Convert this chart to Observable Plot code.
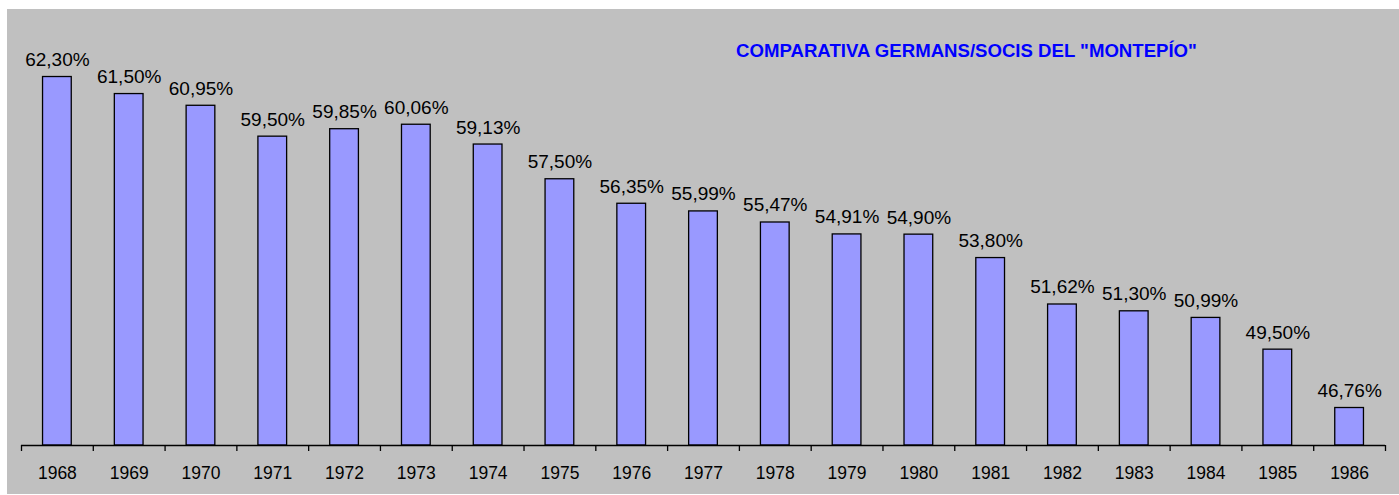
<!DOCTYPE html>
<html>
<head>
<meta charset="utf-8">
<script src="https://cdn.jsdelivr.net/npm/d3@7"></script>
<script src="https://cdn.jsdelivr.net/npm/@observablehq/plot@0.6"></script>
<style>
  html, body { margin: 0; padding: 0; background: #ffffff; }
  #wrap { position: relative; width: 1399px; height: 495px; background: #ffffff; overflow: hidden; }
  #bg { position: absolute; left: 7px; top: 9px; width: 1392px; height: 485px; background: #c0c0c0; }
  #chart { position: absolute; left: 0; top: 0; }
</style>
</head>
<body>
<div id="wrap"><div id="bg"></div><div id="chart"></div></div>
<script>
const years = ["1968","1969","1970","1971","1972","1973","1974","1975","1976","1977","1978","1979","1980","1981","1982","1983","1984","1985","1986"];
const values = [62.30, 61.50, 60.95, 59.50, 59.85, 60.06, 59.13, 57.50, 56.35, 55.99, 55.47, 54.91, 54.90, 53.80, 51.62, 51.30, 50.99, 49.50, 46.76];
const title = "COMPARATIVA GERMANS/SOCIS DEL \"MONTEPÍO\"";
const yDomain = [45, 65.47];

const data = years.map((y, i) => ({year: y, value: values[i]}));
const fmt = v => v.toFixed(2).replace(".", ",") + "%";

const W = 1399, H = 495, mL = 21, mR = 14, mT = 9, mB = 50;
const step = (W - mL - mR) / years.length;

const chart = Plot.plot({
  width: W, height: H,
  marginLeft: mL, marginRight: mR, marginTop: mT, marginBottom: mB,
  style: {background: "transparent", fontFamily: "'Liberation Sans', Arial, sans-serif"},
  x: {domain: years, paddingInner: 0.6, paddingOuter: 0.3, round: false, label: null},
  y: {domain: yDomain, axis: null},
  marks: [
    Plot.barY(data, {x: "year", y1: yDomain[0], y2: "value", fill: "#9999ff", stroke: "#000000", strokeWidth: 1.3}),
    Plot.text(data, {x: "year", y: "value", text: d => fmt(d.value), lineAnchor: "bottom", dy: -11, fontSize: 19, fill: "#000000"}),
    Plot.ruleY([yDomain[0]], {stroke: "#000000", strokeWidth: 1.3}),
    Plot.axisX({tickSize: 0, tickPadding: 21, fontSize: 17.5, fill: "#000000"}),
    Plot.axisX({ticks: years, tickSize: 6, text: null, dx: -step / 2, stroke: "#000000", strokeWidth: 1.3}),
    Plot.axisX({ticks: years.slice(-1), tickSize: 6, text: null, dx: step / 2, stroke: "#000000", strokeWidth: 1.3}),
    Plot.text([title], {frameAnchor: "top", dx: 263, dy: 42, fontSize: 18.6, fontWeight: "bold", fill: "#0000ff", textAnchor: "middle", lineAnchor: "middle"})
  ]
});
document.getElementById("chart").appendChild(chart);
</script>
</body>
</html>
